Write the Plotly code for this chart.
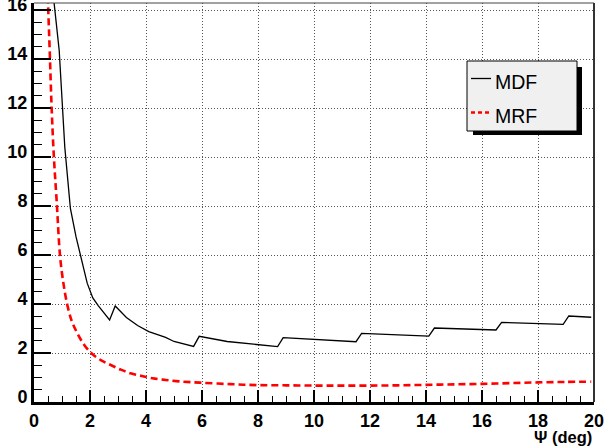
import plotly.graph_objects as go

# ---- data ----
mdf_x = [0.5, 0.9, 1.1, 1.3, 1.5, 1.7, 1.9, 2.1, 2.3, 2.7, 2.9, 3.3, 3.7, 4.1, 4.7, 5.0,
         5.7, 5.9, 6.9, 8.7, 8.9, 11.5, 11.7, 14.1, 14.3, 16.5, 16.7, 18.9, 19.1, 19.9]
mdf_y = [18.6, 14.35, 10.4, 7.9, 6.75, 5.8, 4.85, 4.25, 3.92, 3.35, 3.92, 3.45, 3.12, 2.87, 2.64, 2.47,
         2.27, 2.68, 2.47, 2.26, 2.63, 2.46, 2.80, 2.69, 3.02, 2.94, 3.25, 3.17, 3.51, 3.46]

mrf_x = [0.45, 0.5, 0.56, 0.63, 0.71, 0.81, 0.93, 1.05, 1.19, 1.35, 1.55, 1.8, 2.08, 2.4, 2.74,
         3.1, 3.45, 3.85, 4.23, 4.7, 5.2, 5.93, 7.0, 7.95, 9.0, 10.1, 11.0, 12.0, 13.0, 14.0,
         15.0, 16.0, 17.0, 18.0, 19.0, 19.9]
mrf_y = [17.9, 16.27, 14.37, 12.0, 10.0, 8.2, 5.96, 4.85, 3.96, 3.3, 2.80, 2.32, 1.96, 1.7, 1.51,
         1.32, 1.17, 1.06, 0.97, 0.9, 0.84, 0.79, 0.73, 0.69, 0.68, 0.67, 0.67, 0.67, 0.68, 0.70,
         0.72, 0.74, 0.77, 0.80, 0.82, 0.83]

x_ticks = [0, 2, 4, 6, 8, 10, 12, 14, 16, 18, 20]
y_ticks = [0, 2, 4, 6, 8, 10, 12, 14, 16]
series_names = ["MDF", "MRF"]
x_title = "Ψ (deg)"

# ---- layout geometry ----
W, H = 605, 447
L, R, T, B = 34, 11, 3, 45
pw, ph = W - L - R, H - T - B


def px(x):
    return (x - L) / pw


def py(y):
    return (H - B - y) / ph


fig = go.Figure()
fig.add_trace(go.Scatter(x=mdf_x, y=mdf_y, mode="lines", name=series_names[0],
                         line=dict(color="black", width=1.3), showlegend=False))
fig.add_trace(go.Scatter(x=mrf_x, y=mrf_y, mode="lines", name=series_names[1],
                         line=dict(color="#ff0000", width=2.6, dash="7px,4px"),
                         line_shape="spline", showlegend=False))

tickfont = dict(family="Liberation Sans", size=18, color="black", weight="bold")
fig.update_xaxes(range=[0, 20], tickvals=x_ticks, ticktext=[str(v) for v in x_ticks],
                 ticks="inside", ticklen=12, tickwidth=2, tickcolor="black",
                 showline=True, linecolor="black", linewidth=3,
                 showgrid=True, gridcolor="#555", gridwidth=1, griddash="1px,2px",
                 zeroline=False, tickfont=tickfont, ticklabeloverflow="allow",
                 minor=dict(ticks="inside", ticklen=6, dtick=0.5, tickwidth=1,
                            tickcolor="black", showgrid=False))
fig.update_yaxes(range=[0, (H - B - T) / 24.5], tickvals=y_ticks, ticktext=[str(v) for v in y_ticks],
                 ticks="inside", ticklen=17, tickwidth=2, tickcolor="black",
                 showline=True, linecolor="black", linewidth=3,
                 showgrid=True, gridcolor="#555", gridwidth=1, griddash="1px,2px",
                 zeroline=False, tickfont=tickfont, ticklabelshift=-5, ticklabeloverflow="allow",
                 minor=dict(ticks="inside", ticklen=8, dtick=0.5, tickwidth=1,
                            tickcolor="black", showgrid=False))

shapes = [
    # top and right frame lines
    dict(type="line", xref="paper", yref="paper", x0=0, x1=1, y0=1, y1=1,
         line=dict(color="#444", width=1)),
    dict(type="line", xref="paper", yref="paper", x0=1, x1=1, y0=0, y1=1,
         line=dict(color="#333", width=2)),
    # legend shadow and box
    dict(type="rect", xref="paper", yref="paper", x0=px(473), x1=px(582), y0=py(135), y1=py(67),
         fillcolor="black", line=dict(width=0)),
    dict(type="rect", xref="paper", yref="paper", x0=px(467), x1=px(577), y0=py(131), y1=py(61),
         fillcolor="#f0f0f0", line=dict(color="black", width=1)),
    dict(type="line", xref="paper", yref="paper", x0=px(471), x1=px(491), y0=py(78.5), y1=py(78.5),
         line=dict(color="black", width=1.3)),
    dict(type="line", xref="paper", yref="paper", x0=px(471), x1=px(491), y0=py(112.5), y1=py(112.5),
         line=dict(color="#ff0000", width=2.4, dash="4px,3px")),
]

annotations = [
    dict(text=series_names[0], xref="paper", yref="paper", x=px(493), y=py(82),
         xanchor="left", yanchor="middle", showarrow=False,
         font=dict(family="Liberation Sans", size=19.5, color="black")),
    dict(text=series_names[1], xref="paper", yref="paper", x=px(493), y=py(116),
         xanchor="left", yanchor="middle", showarrow=False,
         font=dict(family="Liberation Sans", size=19.5, color="black")),
    dict(text=x_title, xref="paper", yref="paper", x=1, y=0, yshift=-35,
         xanchor="right", yanchor="middle", showarrow=False,
         font=dict(family="Liberation Sans", size=16.5, color="black", weight="bold")),
]

fig.update_layout(width=W, height=H, margin=dict(l=L, r=R, t=T, b=B, autoexpand=False),
                  paper_bgcolor="white", plot_bgcolor="white",
                  shapes=shapes, annotations=annotations, showlegend=False)

fig.write_html("out.html", config={"displayModeBar": False},
               post_script="document.body.style.margin='0';document.body.style.overflow='hidden';")
